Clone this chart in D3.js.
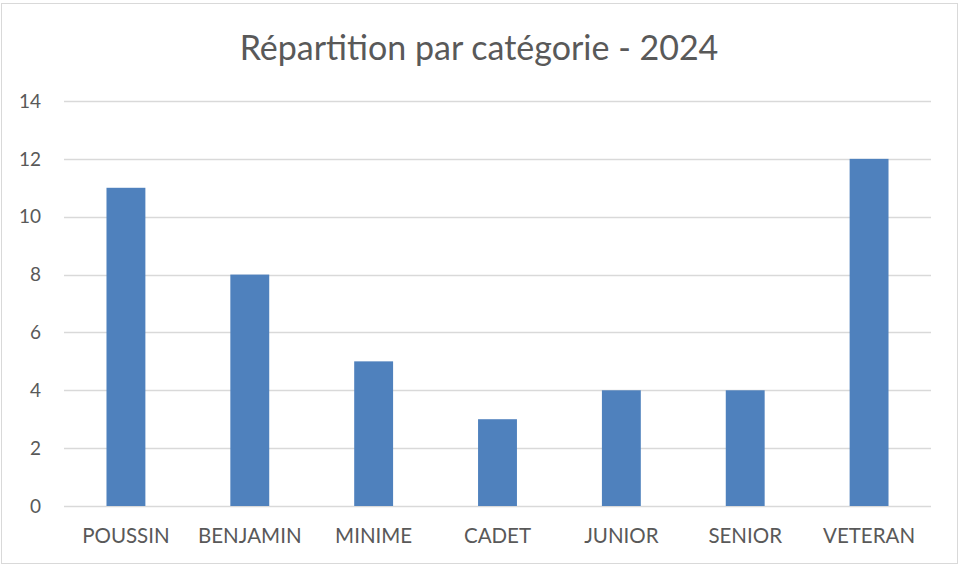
<!DOCTYPE html>
<html>
<head>
<meta charset="utf-8">
<script src="https://cdn.jsdelivr.net/npm/d3@7"></script>
<style>
  body { margin: 0; background: #fff; }
  text { font-family: Lato, 'Open Sans', sans-serif; fill: #595959; }
</style>
</head>
<body>
<div id="chart"></div>
<script>
let chartTitle = 'Répartition par catégorie - 2024'
let categories = ['POUSSIN', 'BENJAMIN', 'MINIME', 'CADET', 'JUNIOR', 'SENIOR', 'VETERAN']
let counts = [11, 8, 5, 3, 4, 4, 12]
let yTicks = [0, 2, 4, 6, 8, 10, 12, 14]

var width = 959
var height = 565
var margin = {top: 101, right: 28, bottom: 60, left: 64}

var svg = d3.select('#chart')
  .append('svg')
  .attr('width', width)
  .attr('height', height)

// chart frame
svg.append('rect')
  .attr('x', 1.5)
  .attr('y', 3.5)
  .attr('width', 956)
  .attr('height', 560)
  .attr('fill', 'none')
  .attr('stroke', '#d9d9d9')

var x = d3.scaleBand()
  .domain(categories)
  .range([margin.left, width - margin.right])
  .paddingInner(0.686)
  .paddingOuter(0.343)

var y = d3.scaleLinear()
  .domain([0, d3.max(yTicks)])
  .range([height - margin.bottom + 1, margin.top])

// gridlines
svg.selectAll('line.grid')
  .data(yTicks)
  .enter()
  .append('line')
  .attr('class', 'grid')
  .attr('x1', margin.left)
  .attr('x2', width - margin.right)
  .attr('y1', d => Math.round(y(d)) + 0.5)
  .attr('y2', d => Math.round(y(d)) + 0.5)
  .attr('stroke', '#d9d9d9')
  .attr('stroke-width', 1.5)

// y labels
svg.selectAll('text.ylab')
  .data(yTicks)
  .enter()
  .append('text')
  .attr('class', 'ylab')
  .attr('x', 41)
  .attr('y', d => y(d))
  .attr('dy', '0.35em')
  .attr('text-anchor', 'end')
  .attr('font-size', 19)
  .text(d => d)

// bars
svg.selectAll('rect.bar')
  .data(counts)
  .enter()
  .append('rect')
  .attr('class', 'bar')
  .attr('x', (d, i) => x(categories[i]))
  .attr('y', d => y(d))
  .attr('width', x.bandwidth())
  .attr('height', d => y(0) - y(d))
  .attr('fill', '#4f81bd')

// category labels
svg.selectAll('text.xlab')
  .data(categories)
  .enter()
  .append('text')
  .attr('class', 'xlab')
  .attr('x', d => x(d) + x.bandwidth() / 2)
  .attr('y', 543)
  .attr('text-anchor', 'middle')
  .attr('font-size', 20.5)
  .text(d => d)

// title
svg.append('text')
  .attr('x', 479)
  .attr('y', 60)
  .attr('text-anchor', 'middle')
  .attr('font-size', 34)
  .text(chartTitle)
</script>
</body>
</html>
